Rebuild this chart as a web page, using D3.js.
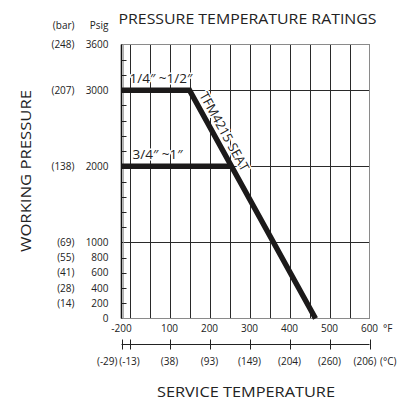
<!DOCTYPE html>
<html>
<head>
<meta charset="utf-8">
<script src="https://cdn.jsdelivr.net/npm/d3@7"></script>
<style>
  html, body { margin: 0; padding: 0; background: #fff; }
  svg { display: block; font-family: "Open Sans", "Noto Sans", sans-serif; }
</style>
</head>
<body>
<div id="chart"></div>
<script>
// pressure axis (psig) with matching bar labels
const psigTicks = [3600, 3000, 2000, 1000, 800, 600, 400, 200, 0];
const barLabels = ['(248)', '(207)', '(138)', '(69)', '(55)', '(41)', '(28)', '(14)', ''];
const minorPsig = [200, 400, 600, 800, 1200, 1400, 1600, 1800, 2200, 2400, 2600, 2800, 3200, 3400];
const gridPsig = [1000, 2000, 3000];

// temperature axes
const gridF = [0, 50, 100, 150, 200, 250, 300, 350, 400, 450, 500, 550];
const fTicks = [-20, 100, 200, 300, 400, 500, 600];
const fLabels = ['-200', '100', '200', '300', '400', '500', '600'];
const cTicks = [-20, 0, 100, 200, 300, 400, 500, 600];
const cLabels = ['(-29)', '(-13)', '(38)', '(93)', '(149)', '(204)', '(260)', '(206)'];

// rating curves: [°F, psig]
const smallSizes = [[-20, 3000], [150, 3000], [465, 0]];
const largeSizes = [[-20, 2000], [255, 2000]];

const width = 412, height = 400;

const svg = d3.select('#chart').append('svg')
  .attr('width', width)
  .attr('height', height)
  .style('background', '#fff');

const x = d3.scaleLinear().domain([-20, 600]).range([121.5, 369.5]);
const y = d3.scaleLinear().domain([0, 3600]).range([318.5, 44.5]);

// grid
const grid = svg.append('g');
grid.selectAll('.vgrid')
  .data(gridF)
  .join('line')
  .attr('x1', d => Math.round(x(d)) + 0.5).attr('x2', d => Math.round(x(d)) + 0.5)
  .attr('y1', y(3600)).attr('y2', y(0))
  .attr('stroke', '#2a2a2a').attr('stroke-width', 1);

grid.selectAll('.hgrid')
  .data(gridPsig)
  .join('line')
  .attr('x1', x(-20)).attr('x2', x(600))
  .attr('y1', d => Math.round(y(d)) + 0.5).attr('y2', d => Math.round(y(d)) + 0.5)
  .attr('stroke', '#2a2a2a').attr('stroke-width', 1);

// frame: grey top/right/bottom, dark double left edge
grid.append('rect')
  .attr('x', x(-20)).attr('y', y(3600))
  .attr('width', x(600) - x(-20)).attr('height', y(0) - y(3600))
  .attr('fill', 'none').attr('stroke', '#8a8a8a').attr('stroke-width', 1);

grid.append('line')
  .attr('x1', x(-20)).attr('x2', x(-20))
  .attr('y1', y(3600)).attr('y2', y(0))
  .attr('stroke', '#111').attr('stroke-width', 1.6);
grid.append('line')
  .attr('x1', x(-20) + 2).attr('x2', x(-20) + 2)
  .attr('y1', y(3600)).attr('y2', y(0))
  .attr('stroke', '#999').attr('stroke-width', 0.8);

grid.selectAll('.minor')
  .data(minorPsig)
  .join('line')
  .attr('x1', x(-20)).attr('x2', x(-20) + 5)
  .attr('y1', d => Math.round(y(d)) + 0.5).attr('y2', d => Math.round(y(d)) + 0.5)
  .attr('stroke', '#222').attr('stroke-width', 1);

// rating lines
const line = d3.line().x(d => x(d[0])).y(d => y(d[1]));
[smallSizes, largeSizes].forEach(s => {
  svg.append('path')
    .attr('d', line(s))
    .attr('fill', 'none')
    .attr('stroke', '#1c1a1a')
    .attr('stroke-width', 5.5)
    .attr('stroke-linejoin', 'miter');
});

const halo = sel => sel
  .attr('stroke', '#fff').attr('stroke-width', 3)
  .attr('paint-order', 'stroke').attr('stroke-linejoin', 'round');

svg.append('text')
  .attr('x', x(-20) + 8).attr('y', y(3000) - 7)
  .attr('font-size', 13.5).attr('fill', '#222')
  .call(halo)
  .text('1/4\u2033 ~1/2\u2033');

svg.append('text')
  .attr('x', x(-20) + 11).attr('y', y(2000) - 7.5)
  .attr('font-size', 13.5).attr('fill', '#222')
  .call(halo)
  .text('3/4\u2033 ~1\u2033');

// seat label along the diagonal
const p0 = [x(smallSizes[1][0]), y(smallSizes[1][1])];
const p1 = [x(smallSizes[2][0]), y(smallSizes[2][1])];
const len = Math.hypot(p1[0] - p0[0], p1[1] - p0[1]);
const ux = (p1[0] - p0[0]) / len, uy = (p1[1] - p0[1]) / len;
const angle = Math.atan2(uy, ux) * 180 / Math.PI;
const tx = p0[0] + ux * 9 + uy * 6, ty = p0[1] + uy * 9 - ux * 6;
svg.append('text')
  .attr('transform', `translate(${tx},${ty}) rotate(${angle})`)
  .attr('font-size', 13).attr('fill', '#222')
  .attr('textLength', 88).attr('lengthAdjust', 'spacingAndGlyphs')
  .call(halo)
  .text('TFM4215 SEAT');

// y labels
const yl = svg.append('g').attr('font-size', 10).attr('fill', '#222');
yl.selectAll('.psig')
  .data(psigTicks)
  .join('text')
  .attr('x', 108.5).attr('y', d => y(d)).attr('dy', '0.35em')
  .attr('text-anchor', 'end')
  .text(d => d);
yl.selectAll('.bar')
  .data(barLabels)
  .join('text')
  .attr('x', 74.5).attr('y', (d, i) => y(psigTicks[i])).attr('dy', '0.35em')
  .attr('text-anchor', 'end')
  .text(d => d);
yl.append('text').attr('x', 74.5).attr('y', 29).attr('text-anchor', 'end').text('(bar)');
yl.append('text').attr('x', 108.5).attr('y', 29).attr('text-anchor', 'end').text('Psig');

// fahrenheit labels
const xl = svg.append('g').attr('font-size', 10).attr('fill', '#222');
xl.selectAll('.f')
  .data(fTicks)
  .join('text')
  .attr('x', d => x(d)).attr('y', 328.5).attr('dy', '0.35em')
  .attr('text-anchor', 'middle')
  .text((d, i) => fLabels[i]);
xl.append('text').attr('x', 383).attr('y', 328.5).attr('dy', '0.35em').text('°F');

// celsius scale
const cy = 344.5;
const cAxis = svg.append('g');
cAxis.append('line')
  .attr('x1', x(-20)).attr('x2', x(600)).attr('y1', cy).attr('y2', cy)
  .attr('stroke', '#222');
cAxis.selectAll('.ctick')
  .data(cTicks)
  .join('line')
  .attr('x1', d => Math.round(x(d)) + 0.5).attr('x2', d => Math.round(x(d)) + 0.5)
  .attr('y1', cy - 5).attr('y2', cy + 5)
  .attr('stroke', '#222');
xl.selectAll('.c')
  .data(cTicks)
  .join('text')
  .attr('x', (d, i) => i === 0 ? x(d) - 4 : i === cTicks.length - 1 ? x(d) - 4.5 : x(d))
  .attr('y', 361.5).attr('dy', '0.35em')
  .attr('text-anchor', (d, i) => i === 0 ? 'end' : 'middle')
  .text((d, i) => cLabels[i]);
xl.append('text').attr('x', 380).attr('y', 361.5).attr('dy', '0.35em').text('(°C)');

// titles
svg.append('text')
  .attr('x', 247.5).attr('y', 23.5)
  .attr('text-anchor', 'middle')
  .attr('font-size', 15).attr('fill', '#222')
  .attr('textLength', 258).attr('lengthAdjust', 'spacingAndGlyphs')
  .text('PRESSURE TEMPERATURE RATINGS');

svg.append('text')
  .attr('x', 246).attr('y', 397)
  .attr('text-anchor', 'middle')
  .attr('font-size', 15).attr('fill', '#222')
  .attr('textLength', 178).attr('lengthAdjust', 'spacingAndGlyphs')
  .text('SERVICE TEMPERATURE');

svg.append('text')
  .attr('transform', 'translate(31,171) rotate(-90)')
  .attr('text-anchor', 'middle')
  .attr('font-size', 15).attr('fill', '#222')
  .attr('textLength', 162).attr('lengthAdjust', 'spacingAndGlyphs')
  .text('WORKING PRESSURE');
</script>
</body>
</html>
